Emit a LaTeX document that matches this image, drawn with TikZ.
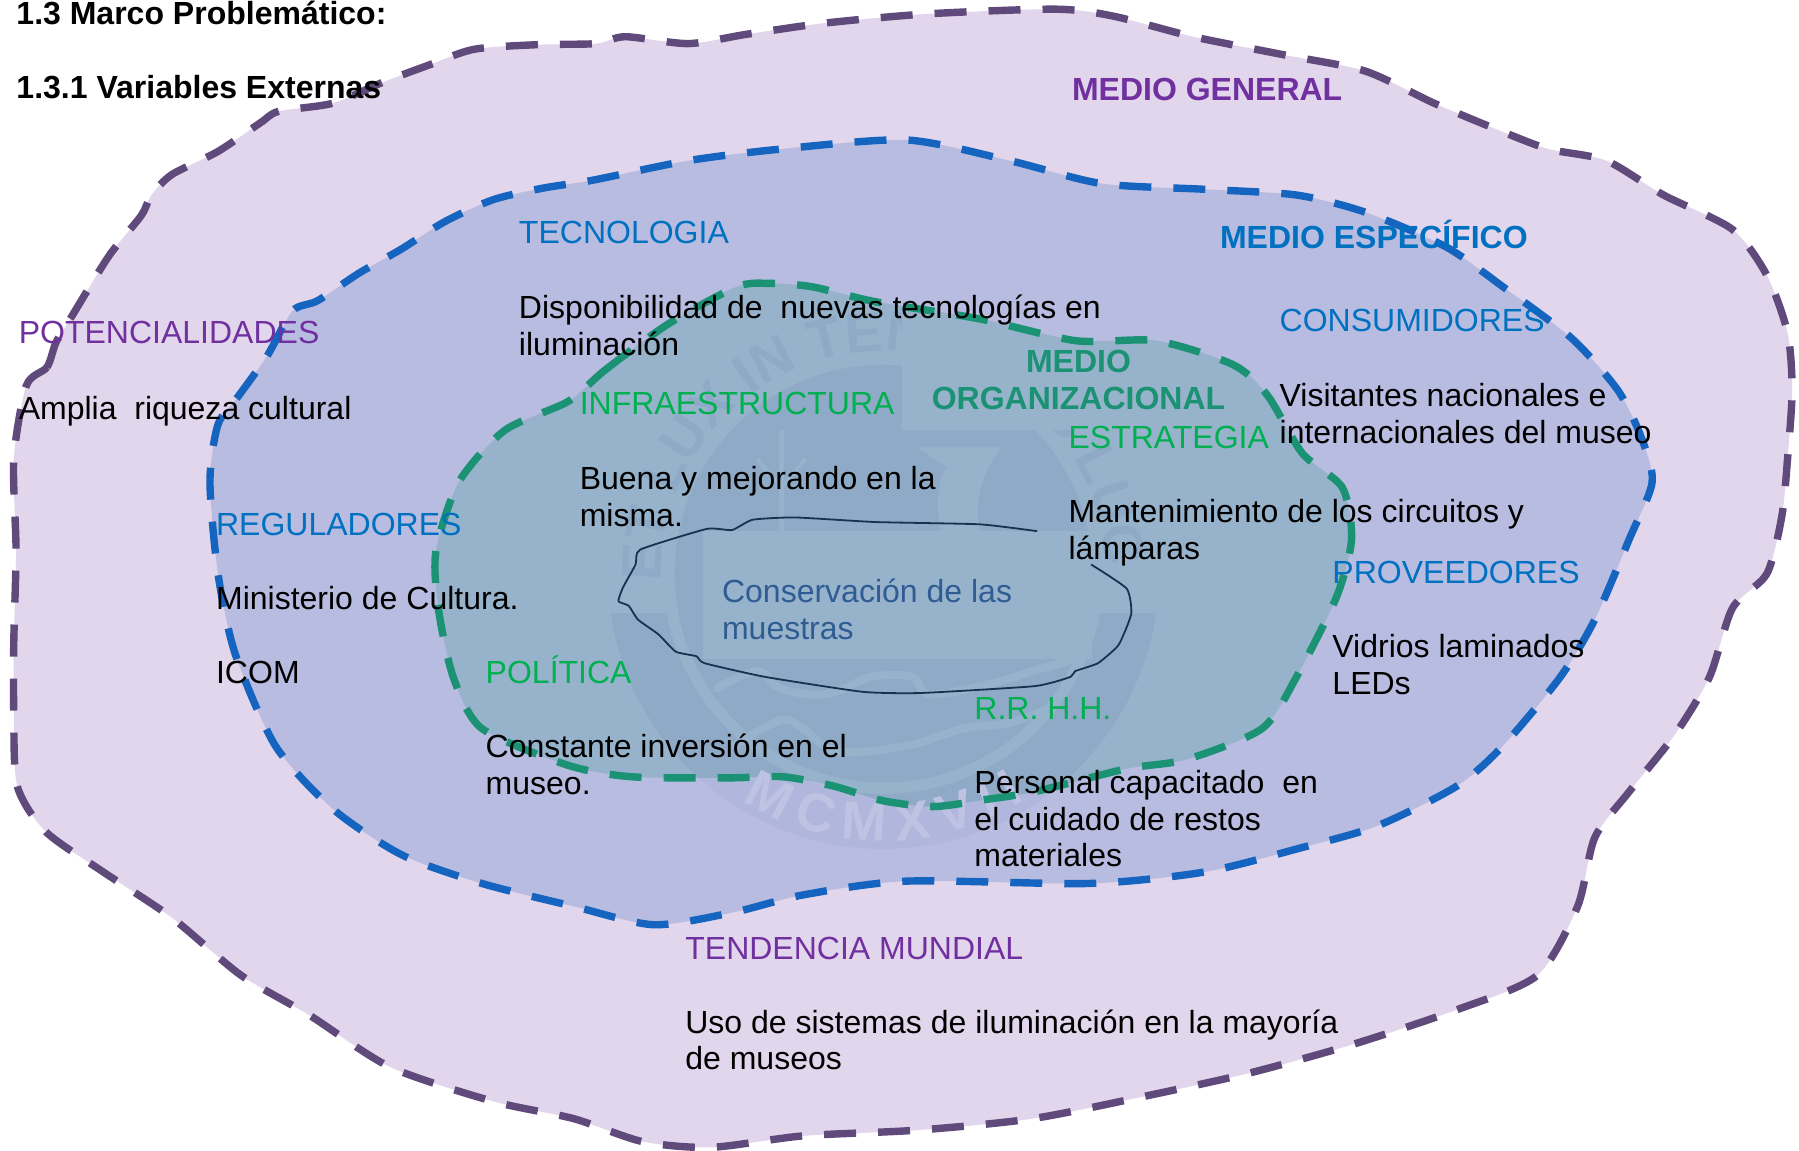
\documentclass[tikz,border=0pt]{standalone}
\usepackage{fontspec}
\setmainfont{Liberation Sans}
\usetikzlibrary{decorations.text}
\definecolor{purplefill}{HTML}{E2D6EC}
\definecolor{bluefill}{HTML}{B8BCE0}
\definecolor{greenfill}{HTML}{96B3CB}
\definecolor{purpleline}{HTML}{604A7B}
\definecolor{blueline}{HTML}{1565C0}
\definecolor{greenline}{HTML}{1A9273}
\definecolor{purpletxt}{HTML}{7030A0}
\definecolor{bluetxt}{HTML}{0070C0}
\definecolor{greentxt}{HTML}{00B050}
\definecolor{coretxt}{HTML}{2F5C93}
\definecolor{coreline}{HTML}{17324F}
\definecolor{sealdark}{HTML}{8FAAC6}
\definecolor{seallight}{HTML}{BEC3E4}
\definecolor{sealblue}{HTML}{B1B7DC}
\newcommand\ltab[1]{\begin{tabular}[t]{@{}l@{}}#1\end{tabular}}
\newcommand\ctab[1]{\begin{tabular}[t]{@{}c@{}}#1\end{tabular}}
\newcommand\sealtop{\fontsize{28}{28}\selectfont\bfseries\color{sealdark}}
\newcommand\sealbot{\fontsize{27}{27}\selectfont\bfseries\color{seallight}}
\newcommand\outerpts{(23,336)(41,320)(49,298)(63,275)(95,223)(123,188)(132,170)(150,152)(190,132)(227,107)(243,97)(290,90)(333,72)(373,57)(413,43)(467,39)(520,38)(545,32)(600,38)(650,30)(720,20)(810,12)(920,8)(970,14)(1040,32)(1120,48)(1190,62)(1250,90)(1310,115)(1350,130)(1400,140)(1450,170)(1510,200)(1540,240)(1558,290)(1562,340)(1558,400)(1553,450)(1540,500)(1510,530)(1490,590)(1460,640)(1420,690)(1390,730)(1375,790)(1340,850)(1270,880)(1180,910)(1090,935)(1000,955)(900,975)(800,985)(700,990)(620,1000)(560,995)(500,975)(430,960)(340,930)(270,885)(210,850)(150,800)(90,760)(40,725)(15,685)(12,620)(12,560)(14,480)(12,400)}
\newcommand\bluepts{(208,345)(233,310)(255,271)(277,262)(313,238)(350,217)(388,193)(430,174)(473,164)(517,157)(600,140)(680,130)(790,122)(880,140)(960,160)(1050,165)(1130,170)(1190,185)(1260,215)(1310,250)(1370,295)(1410,340)(1430,380)(1440,420)(1420,470)(1390,540)(1360,590)(1310,650)(1270,685)(1200,720)(1130,740)(1050,760)(950,770)(790,768)(700,780)(640,795)(570,806)(500,790)(420,770)(350,745)(290,705)(240,650)(205,570)(190,500)(183,420)(190,370)}
\newcommand\greenpts{(495,350)(528,322)(583,282)(642,250)(671,247)(708,250)(763,263)(854,278)(938,297)(1008,297)(1075,318)(1105,345)(1135,395)(1170,425)(1178,470)(1165,520)(1130,590)(1100,635)(1034,662)(982,670)(902,690)(858,697)(814,703)(770,698)(726,685)(682,677)(634,678)(550,677)(495,667)(420,635)(395,590)(382,530)(380,480)(400,420)(440,375)}
\tikzset{
  zone/.style={line width=3.7pt,dash pattern=on 16pt off 11pt,line cap=butt},
  lab/.style={anchor=base west,inner sep=0pt,font=\fontsize{16}{18.35}\selectfont},
  boldlab/.style={lab,font=\fontsize{16}{18.35}\selectfont\bfseries},
}
\begin{document}
\begin{tikzpicture}[x=0.5735pt,y=-0.5735pt]
\useasboundingbox[fill=white] (0,0) rectangle (1568,1003);
% zones
\fill[purplefill] plot[smooth cycle,tension=0.45] coordinates {\outerpts};
\fill[bluefill] plot[smooth cycle,tension=0.45] coordinates {\bluepts};
% watermark seal, in the part over the blue zone
\fill[sealblue,even odd rule] (770,500) circle (240) (770,500) circle (192);
\fill[bluefill] (520,250) rectangle (1020,534);
\fill[greenfill] plot[smooth cycle,tension=0.45] coordinates {\greenpts};
% seal within the green zone
\begin{scope}
\clip plot[smooth cycle,tension=0.45] coordinates {\greenpts};
\fill[sealdark,even odd rule] (770,500) circle (240) (770,500) circle (192);
\fill[greenfill] (520,250) rectangle (1020,534);
\fill[sealdark] (770,500) circle (182);
% emblem shapes in the seal
\fill[greenfill] (799,390) -- (873,390) .. controls (850,420) and (850,445) .. (854,463) -- (820,463) .. controls (815,440) and (818,420) .. (825,407) -- cycle;
\draw[greenfill,line width=2.5pt] (681,375) -- (681,463);
\draw[greenfill,line width=1.8pt] (660,400) -- (681,425) -- (702,400);
\draw[greenfill,line width=4pt,line cap=round] plot[smooth,tension=0.6] coordinates {(625,600)(660,585)(680,600)(720,605)(760,590)(795,590)(810,605)(860,597)(900,585)(935,575)};
\draw[greenfill,line width=4pt,line cap=round] plot[smooth,tension=0.6] coordinates {(640,650)(680,628)(700,635)(730,655)(790,650)(840,635)(880,630)(920,615)};
\end{scope}
\path[decorate,decoration={text along path,text align={fit to path},text={|\sealtop|ET LUX IN TENEBRIS LUCET}}]
  plot[domain=182:-2,samples=90] ({770+194*cos(\x)},{500-194*sin(\x)});
\path[decorate,decoration={text along path,text align={fit to path},text={|\sealbot|MCMXVII}}]
  plot[domain=238:302,samples=50] ({770+233*cos(\x)},{500-233*sin(\x)});
% patches that hide the seal behind text boxes
\begin{scope}
\clip plot[smooth cycle,tension=0.45] coordinates {\greenpts};
\fill[greenfill] (786,240) rectangle (1100,375);
\fill[greenfill] (613,463) rectangle (952,574);
\end{scope}
% outlines
\draw[zone,purpleline] plot[smooth cycle,tension=0.45] coordinates {\outerpts};
\draw[zone,blueline] plot[smooth cycle,tension=0.45] coordinates {\bluepts};
\draw[zone,greenline] plot[smooth cycle,tension=0.45] coordinates {\greenpts};
% core
\draw[coreline,line width=0.9pt,line join=round] plot[smooth,tension=0.3] coordinates {(904,463)(854,457)(763,455)(693,451)(656,453)(638,462)(616,461)(558,479)(554,492)(543,512)(539,524)(548,528)(556,540)(574,553)(589,568)(607,572)(614,578)(667,590)(752,603)(803,604)(902,598)(933,590)(937,585)(957,578)(975,562)(986,535)(982,513)(951,492)};
% text
\begin{scope}[shift={(-1,-0.5)}]
\node[boldlab] (t13) at (15,22) {1.3 Marco Problemático:};
\node[boldlab] (t131) at (15,86) {1.3.1 Variables Externas};
\node[boldlab,text=purpletxt] (mgen) at (935,88) {MEDIO GENERAL};
\node[lab,text=bluetxt] (tec) at (453,213) {TECNOLOGIA};
\node[lab] (tect) at (453,278) {\ltab{Disponibilidad de\ \ nuevas tecnologías en\\iluminación}};
\node[boldlab,text=bluetxt] (mesp) at (1064,217) {MEDIO ESPECÍFICO};
\node[lab,text=bluetxt] (cons) at (1116,289) {CONSUMIDORES};
\node[lab] (const) at (1116,355) {\ltab{Visitantes nacionales e\\internacionales del museo}};
\node[lab,text=purpletxt] (pot) at (17,300) {POTENCIALIDADES};
\node[lab] (pott) at (17,366) {Amplia\ \ riqueza cultural};
\node[lab,text=greentxt] (inf) at (506,362) {INFRAESTRUCTURA};
\node[lab] (inft) at (506,427) {\ltab{Buena y mejorando en la\\misma.}};
\node[boldlab,anchor=base,text=greenline] (morg) at (941,325) {\ctab{MEDIO\\ORGANIZACIONAL}};
\node[lab,text=greentxt] (est) at (932,391) {ESTRATEGIA};
\node[lab] (estt) at (932,456) {\ltab{Mantenimiento de los circuitos y\\lámparas}};
\node[lab,text=bluetxt] (reg) at (189,467) {REGULADORES};
\node[lab] (regt) at (189,532) {\ltab{Ministerio de Cultura.\\ \\ICOM}};
\node[lab,text=bluetxt] (prov) at (1162,509) {PROVEEDORES};
\node[lab] (provt) at (1162,574) {\ltab{Vidrios laminados\\LEDs}};
\node[lab,text=coretxt] (core) at (630,526) {\ltab{Conservación de las\\muestras}};
\node[lab,text=greentxt] (pol) at (424,596) {POLÍTICA};
\node[lab] (polt) at (424,661) {\ltab{Constante inversión en el\\museo.}};
\node[lab,text=greentxt] (rrhh) at (850,628) {R.R. H.H.};
\node[lab] (rrhht) at (850,692) {\ltab{Personal capacitado\ \ en\\el cuidado de restos\\materiales}};
\node[lab,text=purpletxt] (tend) at (598,837) {TENDENCIA MUNDIAL};
\node[lab] (tendt) at (598,901) {\ltab{Uso de sistemas de iluminación en la mayoría\\de museos}};
\end{scope}
\end{tikzpicture}
\end{document}
